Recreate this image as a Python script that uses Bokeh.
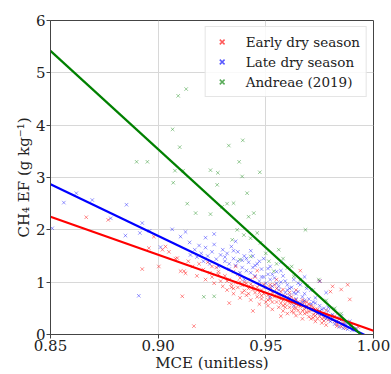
from bokeh.plotting import figure
from bokeh.models import Range1d, FixedTicker, Legend, LegendItem, CustomJSTickFormatter
from bokeh.embed import file_html
from bokeh.resources import INLINE

# ---- data ----
early_x = [0.8666, 0.8768, 0.8926, 0.898, 0.8957, 0.9003, 0.9034, 0.9089, 0.9112, 0.9104, 0.9166, 0.9127, 0.905, 0.902,
           0.908, 0.912, 0.914, 0.916, 0.918, 0.919,
           0.921, 0.922, 0.923, 0.924, 0.925, 0.926, 0.927, 0.928, 0.929, 0.930,
           0.931, 0.932, 0.933, 0.934, 0.935, 0.935, 0.936, 0.937, 0.938, 0.938, 0.939, 0.940, 0.933, 0.936,
           0.941, 0.941, 0.942, 0.943, 0.943, 0.944, 0.945, 0.945, 0.946, 0.947, 0.947, 0.948, 0.948, 0.949, 0.950, 0.950, 0.944, 0.946,
           0.951, 0.951, 0.952, 0.952, 0.953, 0.953, 0.954, 0.954, 0.955, 0.955, 0.956, 0.956, 0.957, 0.957, 0.958, 0.958, 0.959, 0.959, 0.960, 0.960, 0.955, 0.957,
           0.961, 0.961, 0.962, 0.962, 0.963, 0.963, 0.964, 0.964, 0.965, 0.965, 0.966, 0.966, 0.967, 0.967, 0.968, 0.968, 0.969, 0.969, 0.970, 0.970, 0.966, 0.964,
           0.971, 0.971, 0.972, 0.972, 0.973, 0.973, 0.974, 0.975, 0.975, 0.976, 0.976, 0.977, 0.978, 0.978, 0.979, 0.980, 0.980,
           0.981, 0.982, 0.983, 0.984, 0.985, 0.985, 0.986, 0.987, 0.988, 0.989, 0.990, 0.991, 0.993,
           0.932, 0.934, 0.937, 0.939, 0.940, 0.942, 0.944, 0.946, 0.948, 0.949, 0.951, 0.952, 0.953, 0.954, 0.956,
           0.957, 0.958, 0.959, 0.961, 0.962, 0.963, 0.964, 0.965, 0.966, 0.967, 0.968, 0.969, 0.970, 0.971, 0.972,
           0.973, 0.974, 0.975, 0.976, 0.977, 0.978, 0.979, 0.981, 0.982, 0.983, 0.984, 0.986, 0.952, 0.955, 0.958,
           0.961, 0.964, 0.967, 0.970, 0.973, 0.947, 0.943, 0.938, 0.935, 0.928, 0.925]
early_y = [2.24, 2.19, 1.25, 1.87, 1.65, 1.30, 1.68, 1.46, 0.73, 1.21, 0.16, 1.17, 1.58, 1.62,
           1.45, 1.21, 1.40, 1.30, 1.12, 1.35,
           1.24, 1.05, 1.38, 1.18, 1.10, 0.98, 1.28, 1.15, 1.02, 0.92,
           1.12, 0.85, 1.05, 0.96, 1.20, 0.78, 0.99, 0.90, 1.08, 0.70, 0.94, 0.84, 0.60, 1.30,
           0.98, 0.75, 0.88, 1.05, 0.66, 0.92, 0.80, 1.10, 0.72, 0.95, 0.58, 0.85, 0.68, 0.78, 0.90, 0.62, 0.45, 1.22,
           0.75, 0.55, 0.85, 0.68, 0.80, 0.48, 0.72, 0.95, 0.62, 0.78, 0.70, 0.52, 0.82, 0.60, 0.66, 0.45, 0.74, 0.58, 0.64, 0.40, 1.05, 0.35,
           0.70, 0.52, 0.60, 0.44, 0.66, 0.50, 0.58, 0.36, 0.62, 0.46, 0.54, 0.40, 0.58, 0.30, 0.48, 0.62, 0.42, 0.55, 0.50, 0.34, 1.22, 0.85,
           0.46, 0.30, 0.52, 0.38, 0.42, 0.25, 0.48, 0.35, 1.02, 0.40, 0.22, 0.32, 0.38, 0.18, 0.28, 0.82, 0.30,
           0.92, 0.25, 0.20, 0.30, 0.86, 0.15, 0.22, 0.12, 0.95, 0.67, 0.18, 0.10, 0.14,
           1.02, 0.90, 1.15, 0.80, 1.00, 0.78, 0.86, 0.90, 0.74, 0.96, 0.66, 0.90, 0.62, 0.82, 0.76,
           0.68, 0.86, 0.52, 0.60, 0.72, 0.42, 0.66, 0.56, 0.60, 0.46, 0.40, 0.62, 0.44, 0.55, 0.32,
           0.48, 0.30, 0.44, 0.30, 0.26, 0.46, 0.34, 0.28, 0.35, 0.16, 0.24, 0.20, 0.95, 0.88, 0.55,
           0.80, 0.50, 0.66, 0.58, 0.36, 0.80, 0.96, 1.00, 0.88, 1.20, 1.30]

late_x = [0.8508, 0.8562, 0.862, 0.8694, 0.8853, 0.8848, 0.8926, 0.8915, 0.891, 0.9065, 0.9104, 0.9127, 0.9146, 0.9011, 0.915, 0.878, 0.896,
          0.917, 0.918, 0.919, 0.920, 0.921, 0.922, 0.923, 0.924, 0.925, 0.926, 0.927, 0.928, 0.929, 0.930, 0.922, 0.926,
          0.931, 0.932, 0.933, 0.934, 0.935, 0.936, 0.937, 0.938, 0.939, 0.940, 0.941, 0.942, 0.943, 0.944, 0.945, 0.936, 0.940,
          0.946, 0.947, 0.948, 0.949, 0.950, 0.951, 0.952, 0.953, 0.954, 0.955, 0.956, 0.957, 0.958, 0.959, 0.960, 0.952, 0.957,
          0.961, 0.962, 0.963, 0.964, 0.965, 0.966, 0.967, 0.968, 0.969, 0.970, 0.971, 0.972, 0.973, 0.974, 0.975, 0.968, 0.963,
          0.976, 0.977, 0.978, 0.979, 0.980, 0.981, 0.982, 0.983, 0.984, 0.985, 0.986, 0.987, 0.988, 0.989, 0.990, 0.992, 0.975, 0.978,
          0.931, 0.933, 0.935, 0.937, 0.939, 0.941, 0.943, 0.945, 0.947, 0.949, 0.951, 0.953, 0.955, 0.957, 0.959,
          0.961, 0.963, 0.965, 0.967, 0.969, 0.971, 0.973, 0.975, 0.977, 0.979, 0.981, 0.983, 0.985, 0.987, 0.989,
          0.944, 0.948, 0.952, 0.956, 0.960, 0.964, 0.968, 0.972, 0.976, 0.980]
late_y = [2.03, 2.52, 2.70, 2.57, 2.48, 1.89, 2.13, 1.94, 0.74, 2.01, 1.87, 1.96, 1.76, 1.67, 1.52, 2.22, 1.98,
          1.62, 1.48, 1.70, 1.55, 1.40, 1.66, 1.50, 1.35, 1.58, 1.72, 1.44, 1.30, 1.52, 1.62, 1.85, 1.92,
          1.40, 1.55, 1.25, 1.68, 1.45, 1.32, 1.58, 1.18, 1.42, 1.50, 1.22, 1.38, 1.60, 1.28, 1.12, 1.78, 1.05,
          1.35, 1.02, 1.25, 1.45, 0.98, 1.15, 1.30, 0.92, 1.08, 1.20, 0.85, 1.00, 1.12, 0.80, 0.95, 0.72, 1.38,
          0.75, 0.90, 1.05, 0.68, 0.82, 0.95, 0.62, 0.78, 0.52, 0.68, 0.85, 0.48, 0.60, 0.40, 0.55, 1.10, 0.55,
          0.38, 0.50, 0.30, 0.45, 0.25, 0.38, 0.20, 0.32, 0.15, 0.28, 0.12, 0.22, 0.10, 0.18, 0.08, 0.12, 1.02, 0.80,
          1.48, 1.35, 1.60, 1.40, 1.28, 1.45, 1.18, 1.32, 1.40, 1.10, 1.26, 1.15, 0.98, 1.22, 1.02,
          0.88, 0.80, 0.98, 0.72, 0.88, 0.58, 0.70, 0.45, 0.40, 0.52, 0.30, 0.25, 0.35, 0.18, 0.25,
          1.50, 1.10, 1.05, 0.92, 0.85, 0.78, 0.65, 0.62, 0.48, 0.36]

andreae_x = [0.913, 0.9093, 0.9067, 0.910, 0.890, 0.895, 0.9078, 0.9116, 0.907, 0.9328, 0.9393, 0.9376, 0.9243, 0.9277,
             0.939, 0.9472, 0.9274, 0.9135, 0.9174, 0.9243, 0.9297, 0.932, 0.935, 0.9413, 0.942, 0.9444, 0.9367, 0.9398,
             0.9344, 0.9429, 0.946, 0.9475, 0.956, 0.9684, 0.943, 0.938, 0.9514, 0.9537, 0.960, 0.963, 0.966, 0.9746,
             0.969, 0.9212, 0.926, 0.950, 0.955, 0.958, 0.962, 0.972, 0.978, 0.982, 0.985]
andreae_y = [4.69, 4.56, 3.92, 3.58, 3.30, 3.30, 3.13, 3.13, 2.90, 3.61, 3.71, 3.30, 3.14, 3.09,
             3.02, 3.10, 2.86, 2.50, 2.32, 2.30, 2.44, 2.50, 2.51, 2.70, 2.25, 2.32, 2.00, 1.90,
             1.81, 1.84, 1.94, 1.75, 1.62, 2.00, 1.49, 1.43, 1.40, 1.21, 1.27, 1.11, 1.05, 1.05,
             0.92, 0.72, 0.73, 1.55, 1.35, 1.45, 1.30, 0.85, 0.65, 0.50, 0.40]

fit_x = [0.85, 1.00]
early_fit = [2.25, 0.07]
late_fit = [2.87, -0.09]
andreae_fit = [5.42, -0.22]

x_ticks = [0.85, 0.90, 0.95, 1.00]
y_ticks = [0, 1, 2, 3, 4, 5, 6]
labels = ["Early dry season", "Late dry season", "Andreae (2019)"]

FONT = "DejaVu Serif"
NAN = float("nan")

p = figure(width=391, height=374, output_backend="svg", toolbar_location=None,
           x_range=Range1d(0.85, 1.00), y_range=Range1d(0, 6),
           min_border_left=50, min_border_right=18, min_border_top=20, min_border_bottom=39)

p.xaxis.ticker = FixedTicker(ticks=x_ticks)
p.yaxis.ticker = FixedTicker(ticks=y_ticks)
p.xaxis.formatter = CustomJSTickFormatter(code="return tick.toFixed(2);")
p.yaxis.formatter = CustomJSTickFormatter(code="return tick.toFixed(0);")

for ax in (p.xaxis[0], p.yaxis[0]):
    ax.major_label_text_font = FONT
    ax.major_label_text_font_size = "15px"
    ax.major_label_text_color = "#222222"
    ax.axis_label_text_font = FONT
    ax.axis_label_text_font_size = "15px"
    ax.axis_label_text_font_style = "normal"
    ax.axis_label_text_color = "#222222"
    ax.major_tick_in = 0
    ax.major_tick_out = 4
    ax.minor_tick_line_color = None
    ax.axis_line_color = "#444444"
    ax.major_tick_line_color = "#444444"
    ax.major_label_standoff = 1
    ax.axis_label_standoff = 0

p.xaxis.axis_label = "MCE (unitless)"
p.yaxis.axis_label = "CH\u2084 EF (g kg\u207b\u00b9)"

p.outline_line_color = "#444444"
p.outline_line_width = 1
p.grid.grid_line_color = "#d8d8d8"
p.grid.grid_line_width = 1

p.scatter(early_x, early_y, marker="x", size=5, color="red", alpha=0.45, line_width=1)
p.scatter(late_x, late_y, marker="x", size=5, color="blue", alpha=0.4, line_width=1)
p.scatter(andreae_x, andreae_y, marker="x", size=5, color="green", alpha=0.4, line_width=1)

p.line(fit_x, early_fit, color="red", line_width=2.2)
p.line(fit_x, late_fit, color="blue", line_width=2.2)
p.line(fit_x, andreae_fit, color="green", line_width=2.2)

r1 = p.scatter([NAN], [NAN], marker="x", size=12, color="red", alpha=0.65, line_width=1.5)
r2 = p.scatter([NAN], [NAN], marker="x", size=12, color="blue", alpha=0.65, line_width=1.5)
r3 = p.scatter([NAN], [NAN], marker="x", size=12, color="green", alpha=0.65, line_width=1.5)

legend = Legend(items=[LegendItem(label=labels[0], renderers=[r1]),
                       LegendItem(label=labels[1], renderers=[r2]),
                       LegendItem(label=labels[2], renderers=[r3])],
                location="top_right")
legend.label_text_font = FONT
legend.label_text_font_size = "13.5px"
legend.label_text_color = "#222222"
legend.border_line_color = "#cccccc"
legend.background_fill_alpha = 0.85
legend.margin = 6
legend.padding = 6
legend.spacing = 3
legend.glyph_width = 20
legend.glyph_height = 17
legend.label_height = 17
legend.label_standoff = 14
p.add_layout(legend)

open("out.html", "w").write(file_html(p, INLINE))
